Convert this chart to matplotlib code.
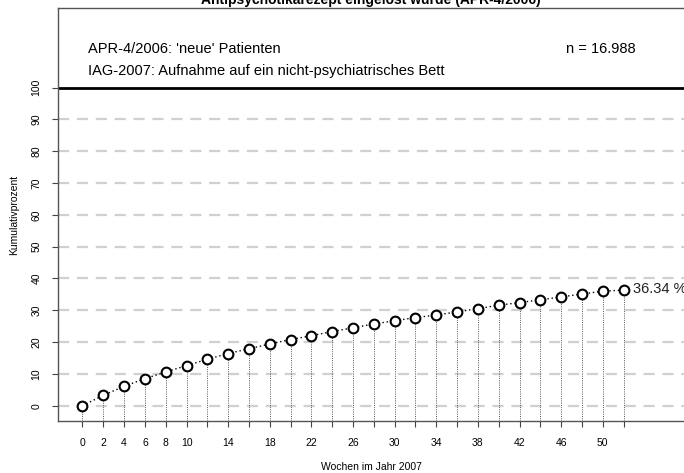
import matplotlib
matplotlib.use("Agg")
import matplotlib.pyplot as plt

plt.rcParams["font.family"] = ["Liberation Sans", "DejaVu Sans"]

# cumulative percentage per week
weeks = list(range(0, 53, 2))
percent = [0.0, 3.27, 6.1, 8.5, 10.6, 12.6, 14.6, 16.4, 17.9, 19.4, 20.8, 22.0,
           23.3, 24.5, 25.7, 26.7, 27.7, 28.5, 29.5, 30.5, 31.6, 32.4, 33.3,
           34.2, 35.1, 36.0, 36.34]
shown_week_labels = [0, 2, 4, 6, 8, 10, 14, 18, 22, 26, 30, 34, 38, 42, 46, 50]
y_ticks = list(range(0, 101, 10))

title = "Antipsychotikarezept eingelöst wurde (APR-4/2006)"
info_lines = ["APR-4/2006: 'neue' Patienten",
              "IAG-2007: Aufnahme auf ein nicht-psychiatrisches Bett"]
n_text = "n = 16.988"

fig = plt.figure(figsize=(6.84, 4.73), dpi=100)
ax = fig.add_axes([0.0848, 0.110, 0.9152, 0.873])

ymin, ymax = -4.8, 125.0
ax.set_xlim(-2.35, 57.8)
ax.set_ylim(ymin, ymax)

# background grid
for v in y_ticks[:-1]:
    ax.axhline(v, color="#d0d0d0", lw=1.6, ls=(0, (5, 3.5)), zorder=1)
ax.axhline(100, color="black", lw=2.0, zorder=2)

# drop lines from each point
ax.vlines(weeks, ymin, percent, colors="#555555", lw=0.7, linestyles=(0, (1, 1.3)), zorder=2)

ax.plot(weeks, percent, color="black", lw=1.0, ls=(0, (1, 2)), zorder=3)
ax.plot(weeks, percent, ls="none", marker="o", ms=7, mfc="white", mec="black",
        mew=1.5, zorder=4)

ax.text(weeks[-1] + 0.9, percent[-1] + 0.3, f"{percent[-1]:.2f} %", fontsize=10.5,
        ha="left", va="center", color="#222222", zorder=5)

ax.text(0.5, 112, info_lines[0], fontsize=10.5, ha="left", va="center")
ax.text(0.5, 105.3, info_lines[1], fontsize=10.5, ha="left", va="center")
ax.text(46.5, 112, n_text, fontsize=10.5, ha="left", va="center")

ax.set_xticks(weeks)
ax.set_xticklabels([str(w) if w in shown_week_labels else "" for w in weeks], fontsize=7.5)
ax.set_yticks(y_ticks)
ax.set_yticklabels([str(v) for v in y_ticks], fontsize=7.5, rotation=90, va="center")
ax.tick_params(axis="both", length=4, width=0.8, color="#444444", pad=8)

ax.set_xlabel("Wochen im Jahr 2007", fontsize=7.5, labelpad=10)
ax.set_ylabel("Kumulativprozent", fontsize=7.5, labelpad=9)

for side in ["left", "bottom", "top"]:
    ax.spines[side].set_color("#555555")
    ax.spines[side].set_linewidth(1.0)
ax.spines["right"].set_visible(False)

fig.text(0.542, 1.0, title, fontsize=10, fontweight="bold", ha="center", va="center")

fig.savefig("out.png", dpi=100)
